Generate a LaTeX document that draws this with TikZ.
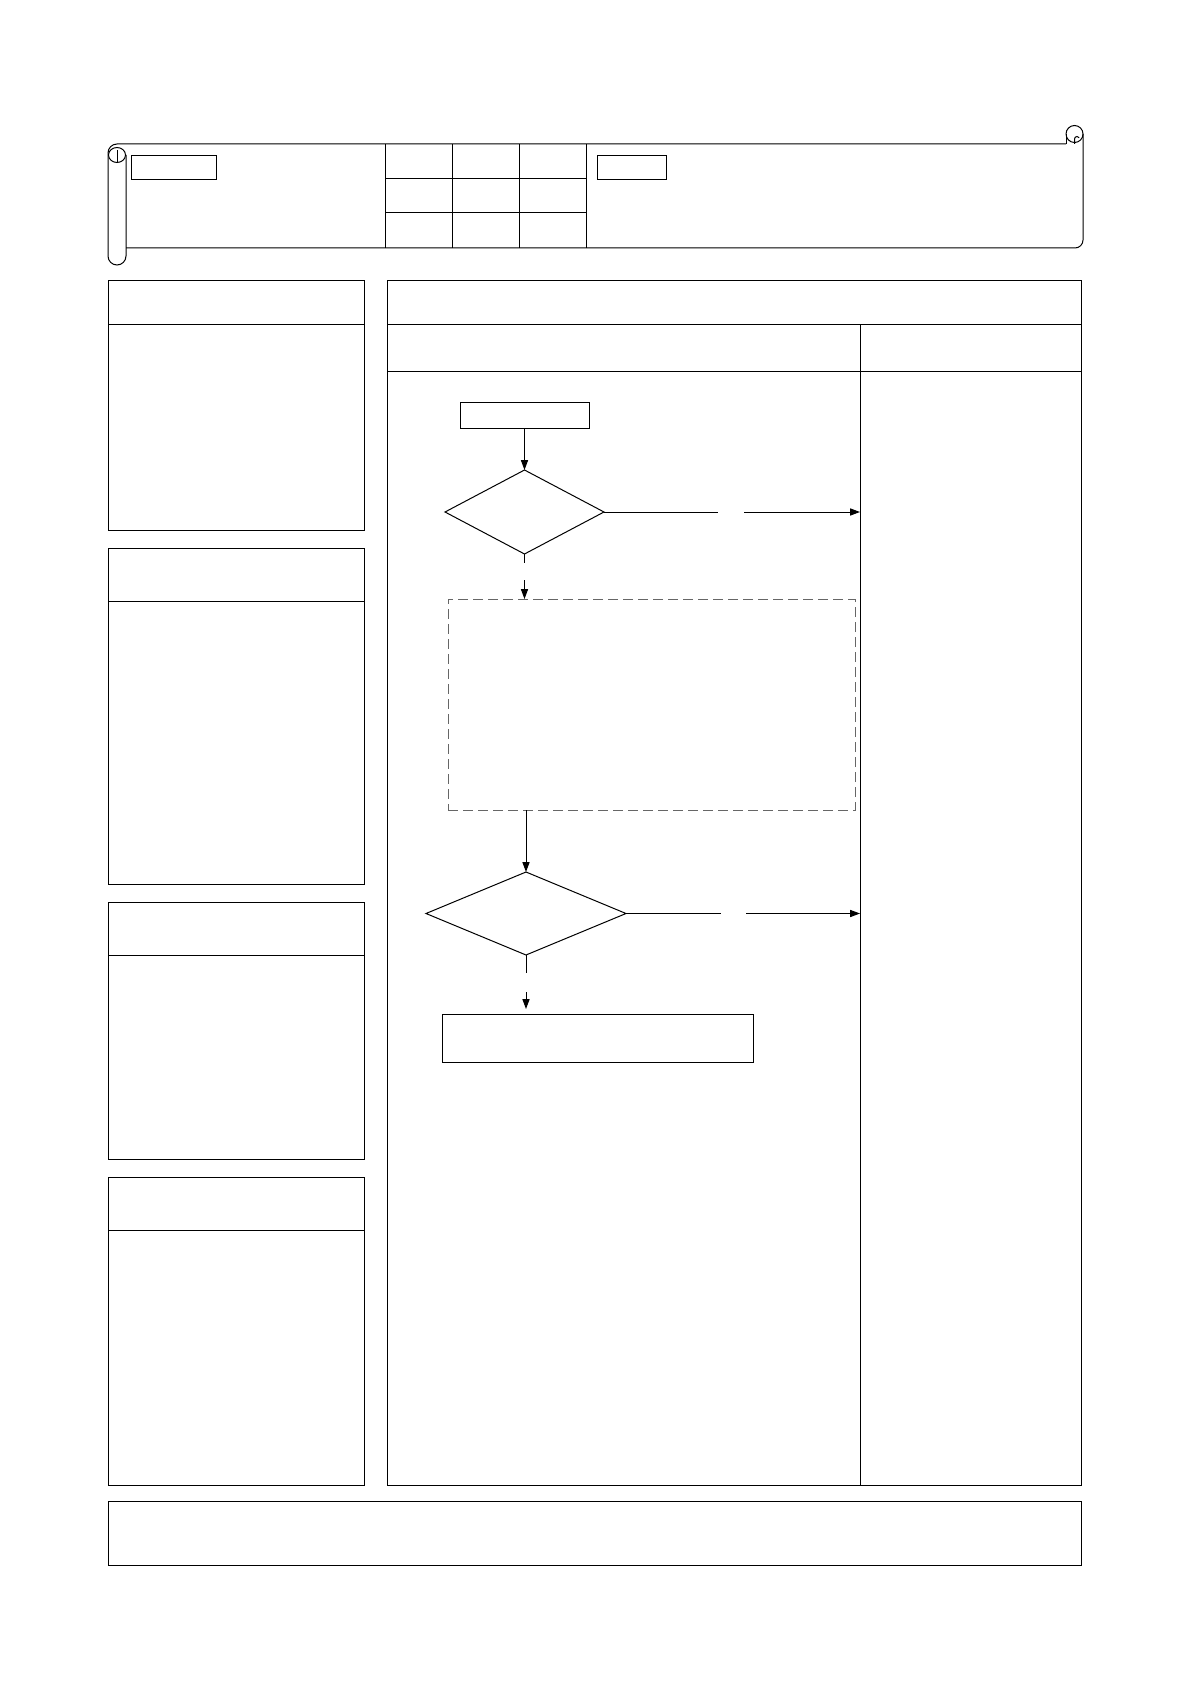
\documentclass[tikz,border=0pt]{standalone}
\usetikzlibrary{shapes.geometric,arrows.meta}
\begin{document}
\begin{tikzpicture}[x=0.5pt,y=-0.5pt,line width=0.5pt,
  box/.style={draw,rectangle,inner sep=0pt,outer sep=0pt},
  dec/.style={draw,diamond,inner sep=0pt,outer sep=0pt},
  dbox/.style={draw=black!60,rectangle,dash pattern=on 5pt off 2.5pt,inner sep=0pt,outer sep=0pt},
  arr/.style={-{Triangle[length=5pt,width=3.6pt]}},
  panel/.style={draw}]
\useasboundingbox (0,0) rectangle (1191,1684);
% ---------- scroll header ----------
\draw (108,153) -- (108,256) arc[start angle=180,end angle=0,radius=9] -- (126,155);
\draw (108,153) arc[start angle=180,end angle=270,radius=9] -- (1066,144);
\draw (117,155) ellipse[x radius=8.5,y radius=7.5];
\draw (117,150) -- (117,162);
\draw (1074.5,134) circle[radius=8.5];
\draw (1066,134) -- (1066,144);
\draw (1074.5,144) -- (1074.5,139) arc[start angle=180,end angle=330,radius=2.5];
\draw (1083,134) -- (1083,240) arc[start angle=0,end angle=90,radius=8] -- (126,248);
% grid
\draw (385,144) -- (385,248) (452,144) -- (452,248) (519,144) -- (519,248) (586,144) -- (586,248);
\draw (385,179) -- (586,179) (385,213) -- (586,213);
\node[box,minimum width=42.5pt,minimum height=12pt] (tagL) at (173.5,168) {};
\node[box,minimum width=34.5pt,minimum height=12pt] (tagR) at (631.5,168) {};
% ---------- left column ----------
\draw[panel] (108,281) rectangle (364,530); \draw (108,325) -- (364,325);
\draw[panel] (108,548) rectangle (364,884); \draw (108,601) -- (364,601);
\draw[panel] (108,902) rectangle (364,1159); \draw (108,955) -- (364,955);
\draw[panel] (108,1177) rectangle (364,1485); \draw (108,1230) -- (364,1230);
% ---------- right panel ----------
\draw[panel] (387,281) rectangle (1081,1485);
\draw (387,325) -- (1081,325);
\draw (387,372) -- (1081,372);
\draw (860,325) -- (860,1485);
% ---------- footer ----------
\draw[panel] (108,1501) rectangle (1081,1565);
% ---------- flow ----------
\node[box,minimum width=64.5pt,minimum height=13pt] (start) at (524.5,416) {};
\node[dec,minimum width=79.5pt,minimum height=42pt] (d1) at (524.5,512) {};
\node[dbox,minimum width=203.5pt,minimum height=105.5pt] (grp) at (651.5,704.5) {};
\node[dec,minimum width=100pt,minimum height=41.5pt] (d2) at (526,913.5) {};
\node[box,minimum width=155.5pt,minimum height=24pt] (fin) at (597.5,1038) {};
\coordinate (r1) at (860,512);
\coordinate (r2) at (860,913.5);
\coordinate (g1a) at (718,512);
\coordinate (g1b) at (744,512);
\coordinate (g2a) at (721,913.5);
\coordinate (g2b) at (746,913.5);
\coordinate (v1a) at (524.5,563);
\coordinate (v1b) at (524.5,580);
\coordinate (v2a) at (526,973);
\coordinate (v2b) at (526,992);
\draw[arr] (start.south) -- (d1.north);
\draw (d1.east) -- (g1a);
\draw[arr] (g1b) -- (r1);
\draw (d1.south) -- (v1a);
\draw[arr] (v1b) -- (grp.north -| v1b);
\draw[arr] (grp.south -| d2.north) -- (d2.north);
\draw (d2.east) -- (g2a);
\draw[arr] (g2b) -- (r2);
\draw (d2.south) -- (v2a);
\draw[arr,shorten >=2.5pt] (v2b) -- (fin.north -| v2b);
\end{tikzpicture}
\end{document}
